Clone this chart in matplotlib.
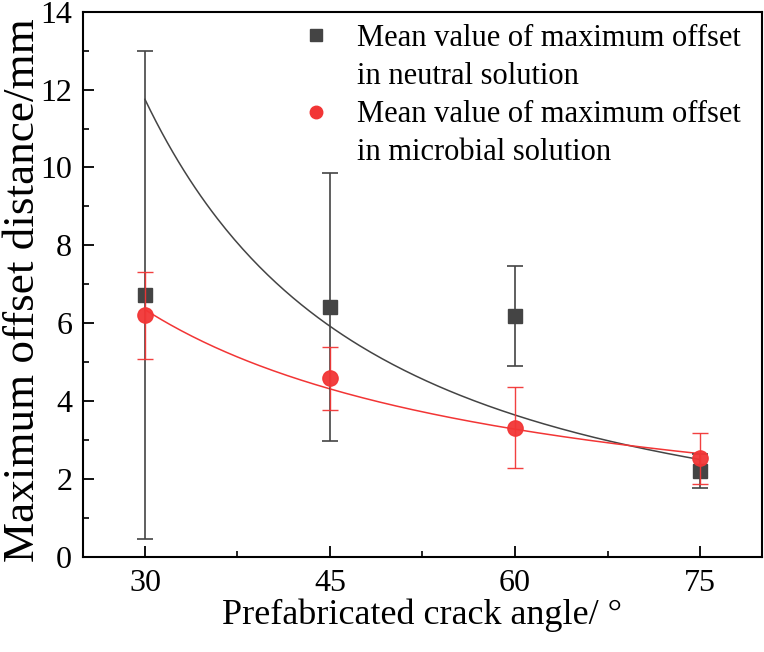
import numpy as np
from matplotlib import pyplot as plt
from matplotlib.lines import Line2D
from matplotlib.ticker import MultipleLocator

# crack angle (deg)
angles = [30, 45, 60, 75]

# neutral solution: mean of maximum offset and error
neutral_mean = [6.72, 6.42, 6.18, 2.20]
neutral_err = [6.26, 3.44, 1.28, 0.44]

# microbial solution
microbial_mean = [6.20, 4.58, 3.32, 2.53]
microbial_err = [1.12, 0.80, 1.05, 0.66]

# power fit y = a * x^b
neutral_fit = (11.75, -1.69)
microbial_fit = (6.35, -0.954)

legend_lines = ['Mean value of maximum offset', 'in neutral solution',
                'Mean value of maximum offset', 'in microbial solution']

plt.rcParams['font.family'] = ['Liberation Serif', 'DejaVu Serif']
plt.rcParams['mathtext.fontset'] = 'stix'

fig = plt.figure(figsize=(7.64, 6.52), dpi=100)
ax = fig.add_axes([0.109, 0.146, 0.888, 0.836])

black = '#444444'
red = '#f23535'

xs = np.linspace(angles[0], angles[-1], 200)

ax.plot(xs, neutral_fit[0] * (xs / angles[0]) ** neutral_fit[1], color=black, lw=1.1, zorder=2)
ax.plot(xs, microbial_fit[0] * (xs / angles[0]) ** microbial_fit[1], color=red, lw=1.1, zorder=2)

ax.errorbar(angles, neutral_mean, yerr=neutral_err, fmt='s', color=black, ms=10,
            ecolor=black, elinewidth=1.2, capsize=6, capthick=1.2, zorder=3)
ax.errorbar(angles, microbial_mean, yerr=microbial_err, fmt='o', color=red, ms=11,
            ecolor=red, elinewidth=1.0, capsize=6, capthick=1.0, alpha=0.95, zorder=4)

ax.set_xlim(25, 80)
ax.set_ylim(0, 14)
ax.xaxis.set_major_locator(MultipleLocator(15))
ax.xaxis.set_minor_locator(MultipleLocator(7.5))
ax.yaxis.set_major_locator(MultipleLocator(2))
ax.yaxis.set_minor_locator(MultipleLocator(1))
ax.tick_params(which='major', direction='in', length=8, width=1.3, labelsize=23, pad=9)
ax.tick_params(which='minor', direction='in', length=4, width=1.2)
ax.tick_params(axis='y', pad=8)
for s in ax.spines.values():
    s.set_linewidth(1.5)

ax.set_xlabel('Prefabricated crack angle/ °', fontsize=26, labelpad=0)
ax.set_ylabel('Maximum offset distance/mm', fontsize=32.5)
ax.yaxis.set_label_coords(-0.06, 0.49)

# legend: marker only on the first line of each entry
blank = Line2D([], [], ls='none', marker='None')
handles = [Line2D([], [], ls='none', marker='s', color=black, ms=8), blank,
           Line2D([], [], ls='none', marker='o', color=red, ms=9), blank]
ax.legend(handles, legend_lines, loc='upper right', frameon=False, fontsize=22,
          handletextpad=0.35, borderaxespad=0.0, labelspacing=0.3,
          bbox_to_anchor=(0.987, 1.0))

fig.savefig('out.png', dpi=100)
